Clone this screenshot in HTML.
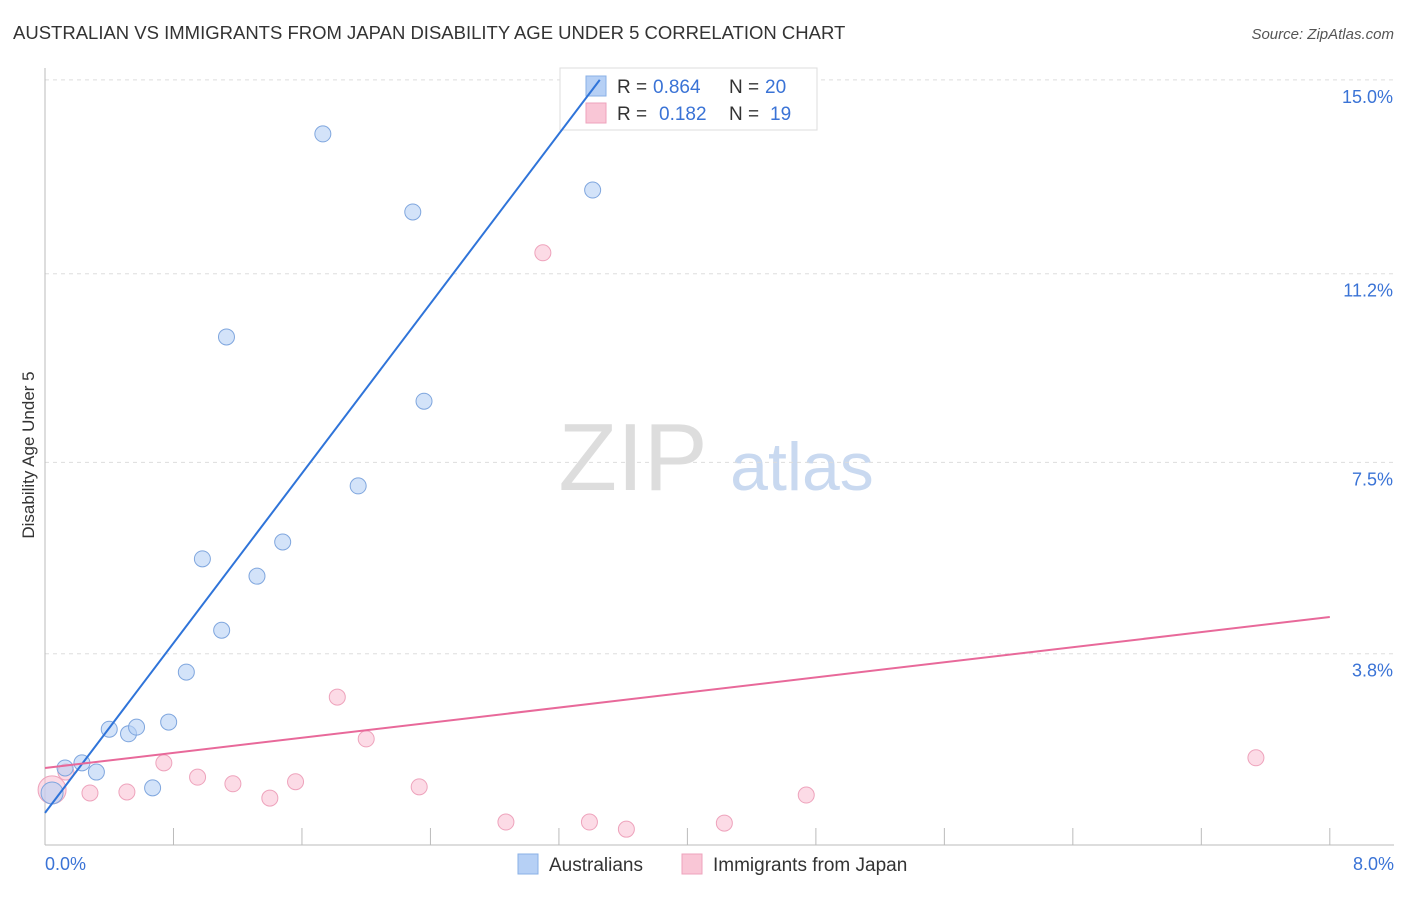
<!DOCTYPE html>
<html><head><meta charset="utf-8"><style>
body{margin:0;background:#fff;font-family:"Liberation Sans",sans-serif;}
svg text{font-family:"Liberation Sans",sans-serif;}
</style></head><body>
<svg width="1406" height="892" xmlns="http://www.w3.org/2000/svg" id="c">
<text x="13" y="39" font-size="18.5" fill="#333">AUSTRALIAN VS IMMIGRANTS FROM JAPAN DISABILITY AGE UNDER 5 CORRELATION CHART</text>
<text x="1394" y="39" font-size="15" fill="#555" text-anchor="end" font-style="italic">Source: ZipAtlas.com</text>
<text transform="translate(34,455) rotate(-90)" font-size="17" fill="#333" text-anchor="middle">Disability Age Under 5</text>
<g>
<text x="633" y="490" font-size="96" fill="#ddd" text-anchor="middle" font-family="Liberation Serif">ZIP</text>
<text x="802" y="490" font-size="68" fill="#c9d9f0" text-anchor="middle">atlas</text>
</g>
<g id="grid"></g>
<g>
<rect x="560" y="68" width="257" height="62" fill="#fff" stroke="#ddd"/>
<rect x="586" y="76" width="20" height="20" fill="#b6d0f5" stroke="#8ab0e6"/>
<text x="617" y="93" font-size="19" fill="#333">R =</text>
<text x="653" y="93" font-size="19" fill="#3a73d6">0.864</text>
<text x="729" y="93" font-size="19" fill="#333">N =</text>
<text x="765" y="93" font-size="19" fill="#3a73d6">20</text>
<rect x="586" y="103" width="20" height="20" fill="#f9c6d6" stroke="#eea3bc"/>
<text x="617" y="120" font-size="19" fill="#333">R =</text>
<text x="659" y="120" font-size="19" fill="#3a73d6">0.182</text>
<text x="729" y="120" font-size="19" fill="#333">N =</text>
<text x="770" y="120" font-size="19" fill="#3a73d6">19</text>
</g>
<g id="marks"></g>
<g>
<rect x="518" y="854" width="20" height="20" fill="#b6d0f5" stroke="#8ab0e6"/>
<text x="549" y="871" font-size="19" fill="#333">Australians</text>
<rect x="682" y="854" width="20" height="20" fill="#f9c6d6" stroke="#eea3bc"/>
<text x="713" y="871" font-size="19" fill="#333">Immigrants from Japan</text>
</g>
</svg>
<script>
const yTicks=[3.8,7.5,11.2,15.0];
const yTickLabels=["3.8%","7.5%","11.2%","15.0%"];
const xTickLabels=["0.0%","8.0%"];
const auX=[0.044,0.125,0.23,0.32,0.40,0.52,0.57,0.67,0.77,0.88,0.98,1.10,1.13,1.32,1.48,1.73,1.95,2.29,2.36,3.41];
const auY=[1.02,1.51,1.61,1.43,2.27,2.18,2.31,1.12,2.41,3.39,5.61,4.21,9.96,5.27,5.94,13.94,7.04,12.41,8.70,12.84];
const jpX=[0.044,0.13,0.28,0.51,0.74,0.95,1.17,1.40,1.56,1.82,2.00,2.33,2.87,3.10,3.39,3.62,4.23,4.74,7.54];
const jpY=[1.08,1.43,1.02,1.04,1.61,1.33,1.20,0.92,1.24,2.90,2.08,1.14,0.45,11.61,0.45,0.31,0.43,0.98,1.71];
const auLine=[0.63,4.16];
const jpLine=[1.51,0.37];
const sx=v=>45+v*160.6, sy=v=>845-v*51.01;
const NS="http://www.w3.org/2000/svg";
function mk(t,a,p){const e=document.createElementNS(NS,t);for(const k in a)e.setAttribute(k,a[k]);p.appendChild(e);return e;}
const g=document.getElementById('grid'),m=document.getElementById('marks');
yTicks.forEach((v,i)=>{
 const yy=sy(v===3.8?3.75:v);
 const l=mk('line',{x1:45,x2:1394,y1:yy,y2:yy,stroke:'#ddd','stroke-dasharray':'4,4'},g);
 
 
 const t=mk('text',{x:1393,y:yy+23,'font-size':18,fill:'#3a73d6','text-anchor':'end'},g);
 t.textContent=yTickLabels[i];
 
 
});
let ax=mk('line',{x1:45,x2:1394,y1:845,y2:845,stroke:'#bbb'},g);


let ay=mk('line',{x1:45,x2:45,y1:68,y2:845,stroke:'#bbb'},g);


for(let i=1;i<=10;i++){const t=mk('line',{x1:sx(i*0.8),x2:sx(i*0.8),y1:828,y2:845,stroke:'#bbb'},g);
 
 }
[[0,xTickLabels[0],'start',45],[8,xTickLabels[1],'end',1394]].forEach(a=>{const t=mk('text',{x:a[3],y:870,'font-size':18,fill:'#3a73d6','text-anchor':a[2]},g);t.textContent=a[1];
 
 });
jpX.forEach((x,i)=>{const c=mk('circle',{cx:sx(x),cy:sy(jpY[i]),r:i===0?14:8,fill:'rgba(249,190,210,0.55)',stroke:'#eea3bc','stroke-width':1},m);
 
 });
auX.forEach((x,i)=>{const c=mk('circle',{cx:sx(x),cy:sy(auY[i]),r:i===0?11:8,fill:'rgba(182,208,245,0.6)',stroke:'#7fa6de','stroke-width':1},m);
 
 });
const x2=(15-auLine[0])/auLine[1];
let bl=mk('line',{x1:sx(0),y1:sy(auLine[0]),x2:sx(x2),y2:sy(15),stroke:'#2f74d9','stroke-width':2},m);


let pl=mk('line',{x1:sx(0),y1:sy(jpLine[0]),x2:sx(8),y2:sy(jpLine[0]+8*jpLine[1]),stroke:'#e8699a','stroke-width':2},m);


</script>
</body></html>
